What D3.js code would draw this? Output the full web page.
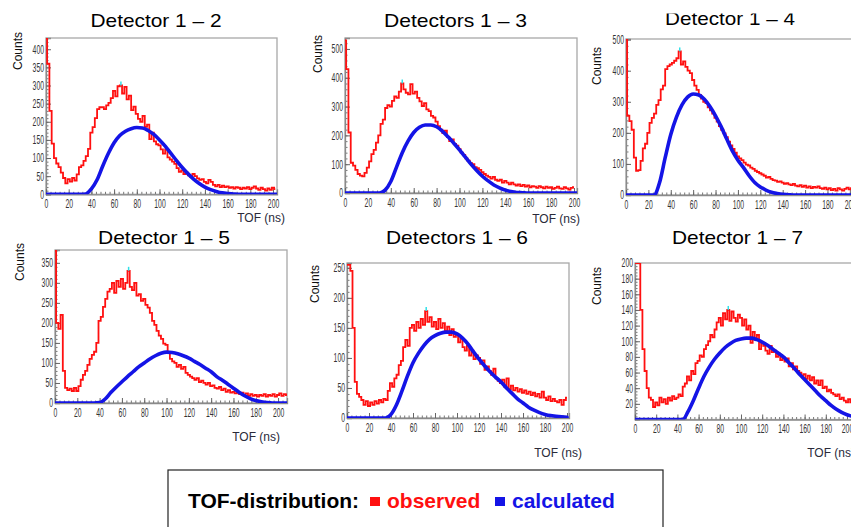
<!DOCTYPE html>
<html>
<head>
<meta charset="utf-8">
<script src="https://cdn.jsdelivr.net/npm/d3@7"></script>
<style>
body { margin: 0; background: #fff; }
svg { display: block; font-family: "Liberation Sans", Arial, sans-serif; }
</style>
</head>
<body>
<svg width="851" height="527"></svg>
<script>
// observed TOF histograms, 2 ns bins starting at 0 ns
var binWidth = 2;
var observed12 = [430,360,230,140,100,85,75,60,45,30,42,35,45,38,55,75,80,92,105,125,
    170,185,210,235,240,240,235,245,252,265,285,270,298,300,278,296,262,272,232,242,
    222,208,200,216,186,192,152,170,146,138,135,124,112,124,102,96,90,84,72,62,
    66,56,60,52,48,56,50,44,40,42,34,30,40,34,26,22,26,20,24,20,
    22,18,20,16,20,18,14,18,16,20,14,18,22,16,12,18,14,10,16,12,18,14];
var observed13 = [530,430,210,105,95,80,66,60,58,70,88,110,135,150,175,200,240,255,295,305,
    300,320,335,330,352,380,360,348,342,378,345,352,330,318,302,312,290,284,268,262,
    248,232,220,208,216,195,180,186,170,164,152,140,132,120,112,104,100,90,86,80,
    72,66,60,56,50,56,46,42,46,36,42,36,30,36,30,26,30,24,28,22,
    26,20,24,22,18,24,20,16,22,18,20,14,18,22,16,14,20,16,12,18,20];
var observed14 = [500,255,238,210,120,78,80,110,150,165,200,232,248,262,290,305,340,352,405,415,
    420,425,432,440,462,420,430,412,400,392,370,352,338,322,310,300,296,282,272,262,
    248,236,222,210,198,186,172,160,148,136,124,118,112,104,98,95,88,84,78,74,
    70,66,62,56,58,52,48,46,42,44,40,36,38,34,32,36,30,28,32,26,
    30,24,28,22,26,24,28,22,20,24,18,22,16,20,14,22,18,14,20,24,18,22,20,18,22,20,18,22,24,20];
var observed15 = [380,200,185,220,80,38,32,36,30,38,30,42,58,70,80,95,110,120,128,150,
    205,215,240,260,278,285,300,275,305,290,310,285,300,330,290,282,300,268,272,255,
    260,245,238,225,205,195,180,168,160,148,145,125,110,104,100,90,95,85,90,75,
    70,66,62,58,62,52,56,50,46,50,42,44,38,36,40,32,36,28,32,26,
    28,24,26,22,26,20,24,18,22,18,20,16,20,18,22,16,20,18,22,16,20,24,18,22,20];
var observed16 = [255,255,245,150,60,40,35,30,22,28,20,26,22,28,24,30,26,32,30,45,
    58,52,66,72,88,95,118,130,120,150,155,145,160,150,165,155,178,160,168,152,
    160,148,165,150,158,145,152,138,148,135,140,126,132,118,112,120,104,112,98,104,
    100,90,96,80,86,78,72,82,66,62,58,64,52,66,48,54,46,50,44,48,
    42,46,40,44,38,42,36,40,34,44,34,30,36,28,32,28,26,30,22,30,34];
var observed17 = [200,200,200,140,90,62,40,28,25,16,22,18,28,22,26,20,28,24,30,26,
    28,32,30,42,46,55,50,62,58,72,75,82,80,90,95,100,108,105,115,124,
    130,120,136,128,140,126,138,130,125,134,130,120,128,115,120,98,112,102,108,90,
    98,94,88,84,94,86,88,80,84,76,80,74,78,68,72,64,68,62,60,56,
    58,52,56,50,54,46,50,44,50,40,42,36,38,34,32,30,32,26,28,24,22,26,22,25];

// calculated TOF curves, 5 ns steps starting at 0 ns
var calcStep = 5;
var calculated12 = [0,0,0,0,0,0,0,1,15,40,78,113,142,162,174,181,184,183,176,165,
    150,133,113,93,74,57,42,30,20,13,8,4,2,1,0,0,0,0,0,0,0,0];
var calculated13 = [0,0,0,0,0,0,0,10,40,90,140,180,210,228,236,236,230,215,195,173,
    150,125,100,78,58,42,28,18,10,5,2,1,0,0,0,0,0,0,0,0,0,0];
var calculated14 = [0,0,0,0,0,0,40,120,195,250,290,315,325,322,308,285,255,220,180,142,
    112,88,62,40,26,16,9,5,2,1,0,0,0,0,0,0,0,0,0,0,0,0,0,0,0];
var calculated15 = [0,0,0,0,0,0,0,0,1,10,26,40,53,66,78,90,100,110,118,124,
    127,126,123,118,112,104,96,87,78,66,57,47,37,27,18,11,6,3,1,0,0,0,0];
var calculated16 = [0,0,0,0,0,0,0,0,6,22,45,70,92,108,121,131,137,141,143,143,
    140,133,123,110,98,87,77,68,60,50,41,32,25,18,13,9,6,4,3,2,1];
var calculated17 = [0,0,0,0,0,0,0,0,0,0,10,24,40,55,67,77,85,92,97,101,
    103,104,104,102,99,95,90,85,80,73,66,58,51,44,37,30,24,18,13,9,6,4,2,1,0];

var titles = ["Detector 1 \u2013 2", "Detectors 1 \u2013 3", "Detector 1 \u2013 4",
              "Detector 1 \u2013 5", "Detectors 1 \u2013 6", "Detector 1 \u2013 7"];
var xMaxima = [203.5, 202.6, 218, 208, 201.8, 221.7];
var yMaxima = [431, 538, 502, 382, 258, 200];
var yLabelSteps = [50, 100, 100, 50, 50, 20];
var xLabelStep = 20;
var yAxisTitle = "Counts";
var xAxisTitle = "TOF (ns)";
var legendTitle = "TOF-distribution:";
var legendNames = ["observed", "calculated"];

var observedSeries = [observed12, observed13, observed14, observed15, observed16, observed17];
var calculatedSeries = [calculated12, calculated13, calculated14, calculated15, calculated16, calculated17];

// pixel layout of each pad
var layout = [
    {left: 46, top: 38, right: 277, bottom: 194.3, titleX: 156, titleY: 27, titleW: 131, countsX: 18, countsY: 32, tofX: 285, tofY: 222},
    {left: 345, top: 38, right: 577, bottom: 193, titleX: 455.5, titleY: 27, titleW: 143, countsX: 318, countsY: 35, tofX: 580, tofY: 223},
    {left: 626, top: 39, right: 870, bottom: 195, titleX: 730, titleY: 25, titleW: 130, countsX: 597, countsY: 47, tofX: 900, tofY: 223},
    {left: 55, top: 250, right: 287, bottom: 403, titleX: 164, titleY: 244, titleW: 132, countsX: 20, countsY: 243, tofX: 280, tofY: 441},
    {left: 347, top: 263, right: 569, bottom: 418, titleX: 457, titleY: 244, titleW: 142, countsX: 315, countsY: 265, tofX: 582, tofY: 457},
    {left: 635, top: 263, right: 870, bottom: 419.5, titleX: 737.5, titleY: 244, titleW: 131, countsX: 597, countsY: 267, tofX: 855, tofY: 457}
];

var svg = d3.select("svg");
var red = "#ff1010", blue = "#1414e6";

function squeeze(sel, perChar) {
    sel.each(function() {
        var t = d3.select(this);
        var s = t.text();
        if (s.length) t.attr("textLength", s.length * perChar).attr("lengthAdjust", "spacingAndGlyphs");
    });
}

layout.forEach(function(p, i) {
    var g = svg.append("g");
    var x = d3.scaleLinear().domain([0, xMaxima[i]]).range([p.left, p.right]);
    var y = d3.scaleLinear().domain([0, yMaxima[i]]).range([p.bottom, p.top]);

    g.append("text")
        .attr("x", p.titleX).attr("y", p.titleY)
        .attr("text-anchor", "middle")
        .attr("font-size", 19)
        .attr("textLength", p.titleW).attr("lengthAdjust", "spacingAndGlyphs")
        .attr("fill", "#000")
        .text(titles[i]);

    var clipId = "clip" + i;
    g.append("clipPath").attr("id", clipId)
        .append("rect")
        .attr("x", p.left).attr("y", p.top)
        .attr("width", p.right - p.left).attr("height", p.bottom - p.top);

    g.append("rect")
        .attr("x", p.left).attr("y", p.top)
        .attr("width", p.right - p.left).attr("height", p.bottom - p.top)
        .attr("fill", "none").attr("stroke", "#a8a8a8").attr("stroke-width", 1.3);

    // minor ticks
    var yStep = yLabelSteps[i];
    var yMinor = d3.range(0, yMaxima[i] + 0.01, yStep / 5);
    var xMinor = d3.range(0, xMaxima[i] + 0.01, xLabelStep / 5);
    g.append("g").attr("transform", "translate(" + p.left + ",0)")
        .call(d3.axisLeft(y).tickValues(yMinor).tickSize(-2.5).tickFormat(""))
        .call(function(a) { a.select(".domain").remove(); a.selectAll("line").attr("stroke", "#777"); });
    g.append("g").attr("transform", "translate(0," + p.bottom + ")")
        .call(d3.axisBottom(x).tickValues(xMinor).tickSize(-2.5).tickFormat(""))
        .call(function(a) { a.select(".domain").remove(); a.selectAll("line").attr("stroke", "#777"); });

    // major ticks with labels
    var yMajor = d3.range(i === 5 ? yStep : 0, yMaxima[i] + 0.01, yStep);
    var xMajor = d3.range(0, xMaxima[i] + 0.01, xLabelStep);
    var ya = g.append("g").attr("transform", "translate(" + p.left + ",0)")
        .call(d3.axisLeft(y).tickValues(yMajor).tickSize(-5).tickPadding(2).tickFormat(d3.format("d")));
    var xa = g.append("g").attr("transform", "translate(0," + p.bottom + ")")
        .call(d3.axisBottom(x).tickValues(xMajor).tickSize(-5).tickPadding(5).tickFormat(d3.format("d")));
    [ya, xa].forEach(function(a) {
        a.select(".domain").attr("stroke", "#8a8a8a").attr("stroke-width", 1.3);
        a.selectAll("line").attr("stroke", "#666");
        a.selectAll("text").attr("font-size", 12).attr("fill", "#333")
            .attr("font-family", "'Liberation Sans', Arial, sans-serif");
        squeeze(a.selectAll("text"), 3.8);
    });

    var obs = observedSeries[i];
    var calc = calculatedSeries[i];

    var obsLine = d3.line()
        .x(function(d, k) { return x(k * binWidth); })
        .y(function(d) { return y(d); })
        .curve(d3.curveStep);
    g.append("path")
        .attr("clip-path", "url(#" + clipId + ")")
        .attr("d", obsLine(obs))
        .attr("fill", "none").attr("stroke", red).attr("stroke-width", 1.8);

    var calcLine = d3.line()
        .x(function(d, k) { return x(k * calcStep); })
        .y(function(d) { return y(d); })
        .curve(d3.curveMonotoneX);
    g.append("path")
        .attr("clip-path", "url(#" + clipId + ")")
        .attr("d", calcLine(calc))
        .attr("fill", "none").attr("stroke", blue).attr("stroke-width", 3.6)
        .attr("stroke-linecap", "round");

    // small cyan marker on the histogram maximum (past the first 20 ns)
    var peakIdx = d3.maxIndex(obs.slice(10)) + 10;
    g.append("line")
        .attr("x1", x(peakIdx * binWidth)).attr("x2", x(peakIdx * binWidth))
        .attr("y1", y(obs[peakIdx])).attr("y2", y(obs[peakIdx]) - 4)
        .attr("stroke", "#33e0e8").attr("stroke-width", 1.5);

    g.append("text")
        .attr("transform", "translate(" + p.countsX + "," + p.countsY + ") rotate(-90)")
        .attr("text-anchor", "end").attr("dy", "0.35em")
        .attr("font-size", 12).attr("fill", "#111")
        .text(yAxisTitle);

    g.append("text")
        .attr("x", p.tofX).attr("y", p.tofY)
        .attr("text-anchor", "end")
        .attr("font-size", 12).attr("fill", "#2a2a3a")
        .text(xAxisTitle);
});

// the top of the third title is cut off in the original figure
svg.append("rect").attr("x", 640).attr("y", 0).attr("width", 190).attr("height", 13.5).attr("fill", "#fff");

// legend
var legend = svg.append("g");
legend.append("rect")
    .attr("x", 168).attr("y", 470).attr("width", 495).attr("height", 70)
    .attr("fill", "#fff").attr("stroke", "#222").attr("stroke-width", 1.2);
legend.append("text")
    .attr("x", 188).attr("y", 508)
    .attr("font-size", 21).attr("font-weight", "bold").attr("fill", "#000")
    .text(legendTitle);
var legendColors = [red, blue];
var legendX = [370, 495];
legendNames.forEach(function(name, k) {
    legend.append("rect")
        .attr("x", legendX[k]).attr("y", 497).attr("width", 10).attr("height", 9)
        .attr("fill", legendColors[k]);
    legend.append("text")
        .attr("x", legendX[k] + 17).attr("y", 508)
        .attr("font-size", 21).attr("font-weight", "bold").attr("fill", legendColors[k])
        .text(name);
});
</script>
</body>
</html>
